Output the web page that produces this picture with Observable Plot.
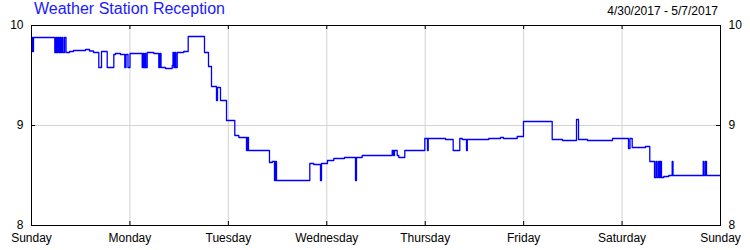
<!DOCTYPE html>
<html>
<head>
<meta charset="utf-8">
<script src="https://cdn.jsdelivr.net/npm/d3@7"></script>
<script src="https://cdn.jsdelivr.net/npm/@observablehq/plot@0.6"></script>
<style>
  html, body { margin: 0; padding: 0; background: #fff; }
  #wrap { position: relative; width: 750px; height: 250px; font-family: "Liberation Sans", Arial, sans-serif; }
  #title { position: absolute; left: 34px; top: 0px; font-size: 16px; color: #1a1aff; white-space: nowrap; z-index: 2; }
  #range { position: absolute; right: 32px; top: 4px; font-size: 12px; color: #000; white-space: nowrap; z-index: 2; }
  #chart { position: absolute; left: 0; top: 0; }
</style>
</head>
<body>
<div id="wrap">
  <div id="title"></div><div id="range"></div>
  <div id="chart"></div>
</div>
<script>
const titleText = "Weather Station Reception";
const rangeText = "4/30/2017 - 5/7/2017";
const dayLabels = ["Sunday", "Monday", "Tuesday", "Wednesday", "Thursday", "Friday", "Saturday", "Sunday"];
const dayTicks = [0, 24, 48, 72, 96, 120, 144, 168];
const yTicks = [8, 9, 10];

// hours since Sunday 00:00 (4/30/2017) and the reception value that starts there
const hours = [
  0, 0.24, 0.49, 5.68, 5.97, 6.17, 6.46, 6.71, 6.95, 7.14, 7.44, 7.68, 8.05, 8.41,
  9.27, 10.24, 13.17, 14.14, 15.12, 16.41, 17.07, 18.46, 20.07, 20.48, 21.70,
  22.75, 23.04, 23.53, 24.02, 26.99, 27.19, 27.38, 27.67, 27.87, 28.21, 29.82,
  31.04, 31.33, 31.58, 32.67, 34.31, 34.50, 34.70, 34.99, 35.18, 35.53, 37.14,
  38.21, 42.18, 43.16, 43.89, 45.11, 45.35, 46.08, 47.55, 49.57, 50.55, 52.42,
  52.67, 52.91, 58.03, 58.69, 59.25, 59.49, 59.74, 67.86, 68.83, 70.47, 70.71,
  72.17, 73.71, 76.32, 79.00, 79.24, 80.63, 87.95, 88.27, 88.51, 89.17, 89.56,
  91.02, 95.90, 96.56, 96.73, 100.95, 102.82, 104.43, 105.02, 106.07, 106.26,
  111.50, 114.36, 115.09, 118.43, 119.96, 126.96, 129.47, 132.89, 133.38, 135.57,
  141.67, 145.57, 145.93, 146.47, 149.71, 150.76, 151.91, 152.27, 152.52, 152.88,
  153.12, 153.37, 153.61, 154.17, 155.39, 156.22, 156.42, 163.78, 163.98, 164.34,
  164.59, 168
];
const reception = [
  9.88, 9.74, 9.88, 9.73, 9.88, 9.73, 9.88, 9.73, 9.88, 9.73, 9.88, 9.73, 9.88, 9.73,
  9.74, 9.75, 9.76, 9.745, 9.73, 9.58, 9.74, 9.58, 9.71, 9.72, 9.71,
  9.58, 9.71, 9.58, 9.72, 9.58, 9.72, 9.58, 9.72, 9.58, 9.73, 9.72,
  9.58, 9.72, 9.58, 9.57, 9.60, 9.73, 9.58, 9.73, 9.58, 9.73, 9.74,
  9.89, 9.73, 9.59, 9.39, 9.25, 9.38, 9.25, 9.05, 8.90, 8.88, 8.75,
  8.88, 8.75, 8.63, 8.64, 8.45, 8.64, 8.45, 8.62, 8.61, 8.45, 8.62,
  8.65, 8.67, 8.68, 8.45, 8.68, 8.70, 8.75, 8.70, 8.75, 8.70, 8.68,
  8.75, 8.87, 8.75, 8.87, 8.86, 8.75, 8.87, 8.86, 8.75, 8.86,
  8.87, 8.88, 8.87, 8.89, 9.04, 8.86, 8.85, 9.06, 8.86, 8.85,
  8.87, 8.77, 8.87, 8.78, 8.79, 8.64, 8.48, 8.64, 8.48, 8.64,
  8.48, 8.64, 8.48, 8.49, 8.50, 8.64, 8.50, 8.64, 8.50, 8.64,
  8.50, 8.50
];

document.getElementById("title").textContent = titleText;
document.getElementById("range").textContent = rangeText;

const data = hours.map((h, i) => ({h, v: reception[i]}));
const innerDays = dayTicks.slice(1, -1);

const chart = Plot.plot({
  width: 750,
  height: 250,
  marginTop: 25,
  marginBottom: 25,
  marginLeft: 31,
  marginRight: 30,
  style: {fontFamily: "'Liberation Sans', Arial, sans-serif", fontSize: "12px", color: "#000", background: "transparent"},
  x: {domain: [0, 168]},
  y: {domain: [8, 10]},
  marks: [
    Plot.ruleX(innerDays, {stroke: "#d3d3d3", strokeOpacity: 1}),
    Plot.ruleY([9], {stroke: "#d3d3d3", strokeOpacity: 1}),
    Plot.ruleX(innerDays, {y1: 8, y2: 8.04, stroke: "#000"}),
    Plot.ruleX(innerDays, {y1: 10, y2: 9.96, stroke: "#000"}),
    Plot.ruleY([9], {x1: 0, x2: 1, stroke: "#000"}),
    Plot.ruleY([9], {x1: 168, x2: 167, stroke: "#000"}),
    Plot.line(data, {x: "h", y: "v", curve: "step-after", stroke: "#0000ff", strokeWidth: 1.3}),
    Plot.frame({stroke: "#000"}),
    Plot.axisX({ticks: dayTicks, tickFormat: (d) => dayLabels[dayTicks.indexOf(d)], tickSize: 0, tickPadding: 8, label: null}),
    Plot.axisY({ticks: yTicks, tickFormat: "d", tickSize: 0, tickPadding: 8, label: null}),
    Plot.axisY({ticks: yTicks, tickFormat: "d", anchor: "right", tickSize: 0, tickPadding: 8, label: null})
  ]
});
document.getElementById("chart").appendChild(chart);
</script>
</body>
</html>
